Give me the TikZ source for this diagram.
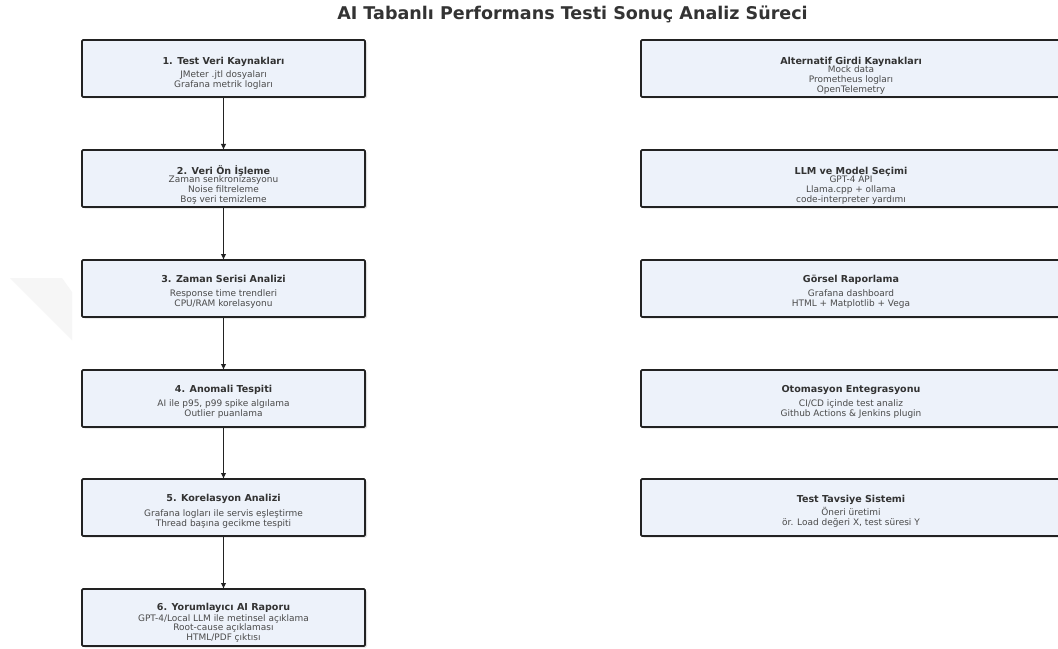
\documentclass[tikz,border=0pt]{standalone}
\usepackage{fontspec}
\setmainfont{DejaVu Sans}
\usetikzlibrary{arrows.meta}

\definecolor{boxfill}{HTML}{EDF2FA}
\definecolor{boxedge}{HTML}{222222}
\definecolor{headtext}{HTML}{333333}
\definecolor{bodytext}{HTML}{4A4A4A}
\definecolor{shadowgray}{HTML}{BDBDBD}

\tikzset{
  stagebox/.style={draw=boxedge, fill=boxfill, line width=1.8pt, rounded corners=1.2pt,
    minimum height=57bp, inner sep=0pt, outer sep=0pt},
  leftbox/.style={stagebox, minimum width=283bp},
  rightbox/.style={stagebox, minimum width=422bp},
  boxshadow/.style={fill=shadowgray, opacity=0.45, rounded corners=1.5pt},
  head/.style={anchor=base, inner sep=0pt, text=headtext, font=\fontsize{9.6}{11}\selectfont\bfseries},
  body/.style={anchor=base, inner sep=0pt, text=bodytext, font=\fontsize{9}{10}\selectfont},
  flow/.style={draw=boxedge, line width=1.5pt, -{Latex[length=6bp,width=5.5bp]}},
}

\begin{document}
\begin{tikzpicture}[x=1bp, y=-1bp]
\clip (0,0) rectangle (1058,649);
\fill[white] (0,0) rectangle (1058,649);

% faint corner mark at the left margin
\fill[gray!7] (10,278) -- (62,278) -- (72,292) -- (72,340) -- cycle;

% title
\node[anchor=base, inner sep=0pt, text=headtext, font=\fontsize{17.6}{20}\selectfont\bfseries] (title) at (572.5,19.5) {AI Tabanlı Performans Testi Sonuç Analiz Süreci};

% box shadows
\foreach \yc in {68.5,178.5,288.5,398.5,507.5,617.5}{
  \fill[boxshadow] (83.5,\yc-27) rectangle (367,\yc+30);
}
\foreach \yc in {68.5,178.5,288.5,398.5,507.5}{
  \fill[boxshadow] (642.5,\yc-27) rectangle (1064,\yc+30);
}

% left column: main process
\node[leftbox] (b1) at (223.5,68.5) {};
\node[leftbox] (b2) at (223.5,178.5) {};
\node[leftbox] (b3) at (223.5,288.5) {};
\node[leftbox] (b4) at (223.5,398.5) {};
\node[leftbox] (b5) at (223.5,507.5) {};
\node[leftbox] (b6) at (223.5,617.5) {};

% right column: supporting components
\node[rightbox] (r1) at (852,68.5) {};
\node[rightbox] (r2) at (852,178.5) {};
\node[rightbox] (r3) at (852,288.5) {};
\node[rightbox] (r4) at (852,398.5) {};
\node[rightbox] (r5) at (852,507.5) {};

% connectors between the steps
\draw[flow] (b1.south) -- (b2.north);
\draw[flow] (b2.south) -- (b3.north);
\draw[flow] (b3.south) -- (b4.north);
\draw[flow] (b4.south) -- (b5.north);
\draw[flow] (b5.south) -- (b6.north);

% texts, left column
\node[head] (b1h) at (223.5,64.5) {1. Test Veri Kaynakları};
\node[body] (b1a) at (223.5,77.5) {JMeter .jtl dosyaları};
\node[body] (b1b) at (223.5,88) {Grafana metrik logları};

\node[head] (b2h) at (223.5,174.5) {2. Veri Ön İşleme};
\node[body] (b2a) at (223.5,183) {Zaman senkronizasyonu};
\node[body] (b2b) at (223.5,193) {Noise filtreleme};
\node[body] (b2c) at (223.5,202.5) {Boş veri temizleme};

\node[head] (b3h) at (223.5,282.5) {3. Zaman Serisi Analizi};
\node[body] (b3a) at (223.5,296.3) {Response time trendleri};
\node[body] (b3b) at (223.5,306.3) {CPU/RAM korelasyonu};

\node[head] (b4h) at (223.5,392.5) {4. Anomali Tespiti};
\node[body] (b4a) at (223.5,406.3) {AI ile p95, p99 spike algılama};
\node[body] (b4b) at (223.5,416.3) {Outlier puanlama};

\node[head] (b5h) at (223.5,501.5) {5. Korelasyon Analizi};
\node[body] (b5a) at (223.5,516) {Grafana logları ile servis eşleştirme};
\node[body] (b5b) at (223.5,526) {Thread başına gecikme tespiti};

\node[head] (b6h) at (223.5,610.5) {6. Yorumlayıcı AI Raporu};
\node[body] (b6a) at (223.5,621) {GPT-4/Local LLM ile metinsel açıklama};
\node[body] (b6b) at (223.5,630.5) {Root-cause açıklaması};
\node[body] (b6c) at (223.5,640.3) {HTML/PDF çıktısı};

% texts, right column
\node[head] (r1h) at (851,64.5) {Alternatif Girdi Kaynakları};
\node[body] (r1a) at (851,72.5) {Mock data};
\node[body] (r1b) at (851,82.3) {Prometheus logları};
\node[body] (r1c) at (851,92.3) {OpenTelemetry};

\node[head] (r2h) at (851,174.5) {LLM ve Model Seçimi};
\node[body] (r2a) at (851,183) {GPT-4 API};
\node[body] (r2b) at (851,193) {Llama.cpp + ollama};
\node[body] (r2c) at (851,202.8) {code-interpreter yardımı};

\node[head] (r3h) at (851,282.5) {Görsel Raporlama};
\node[body] (r3a) at (851,296.3) {Grafana dashboard};
\node[body] (r3b) at (851,306.3) {HTML + Matplotlib + Vega};

\node[head] (r4h) at (851,392.5) {Otomasyon Entegrasyonu};
\node[body] (r4a) at (851,406.3) {CI/CD içinde test analiz};
\node[body] (r4b) at (851,416.3) {Github Actions \& Jenkins plugin};

\node[head] (r5h) at (851,502.5) {Test Tavsiye Sistemi};
\node[body] (r5a) at (851,515.3) {Öneri üretimi};
\node[body] (r5b) at (851,525.3) {ör. Load değeri X, test süresi Y};
\end{tikzpicture}
\end{document}
